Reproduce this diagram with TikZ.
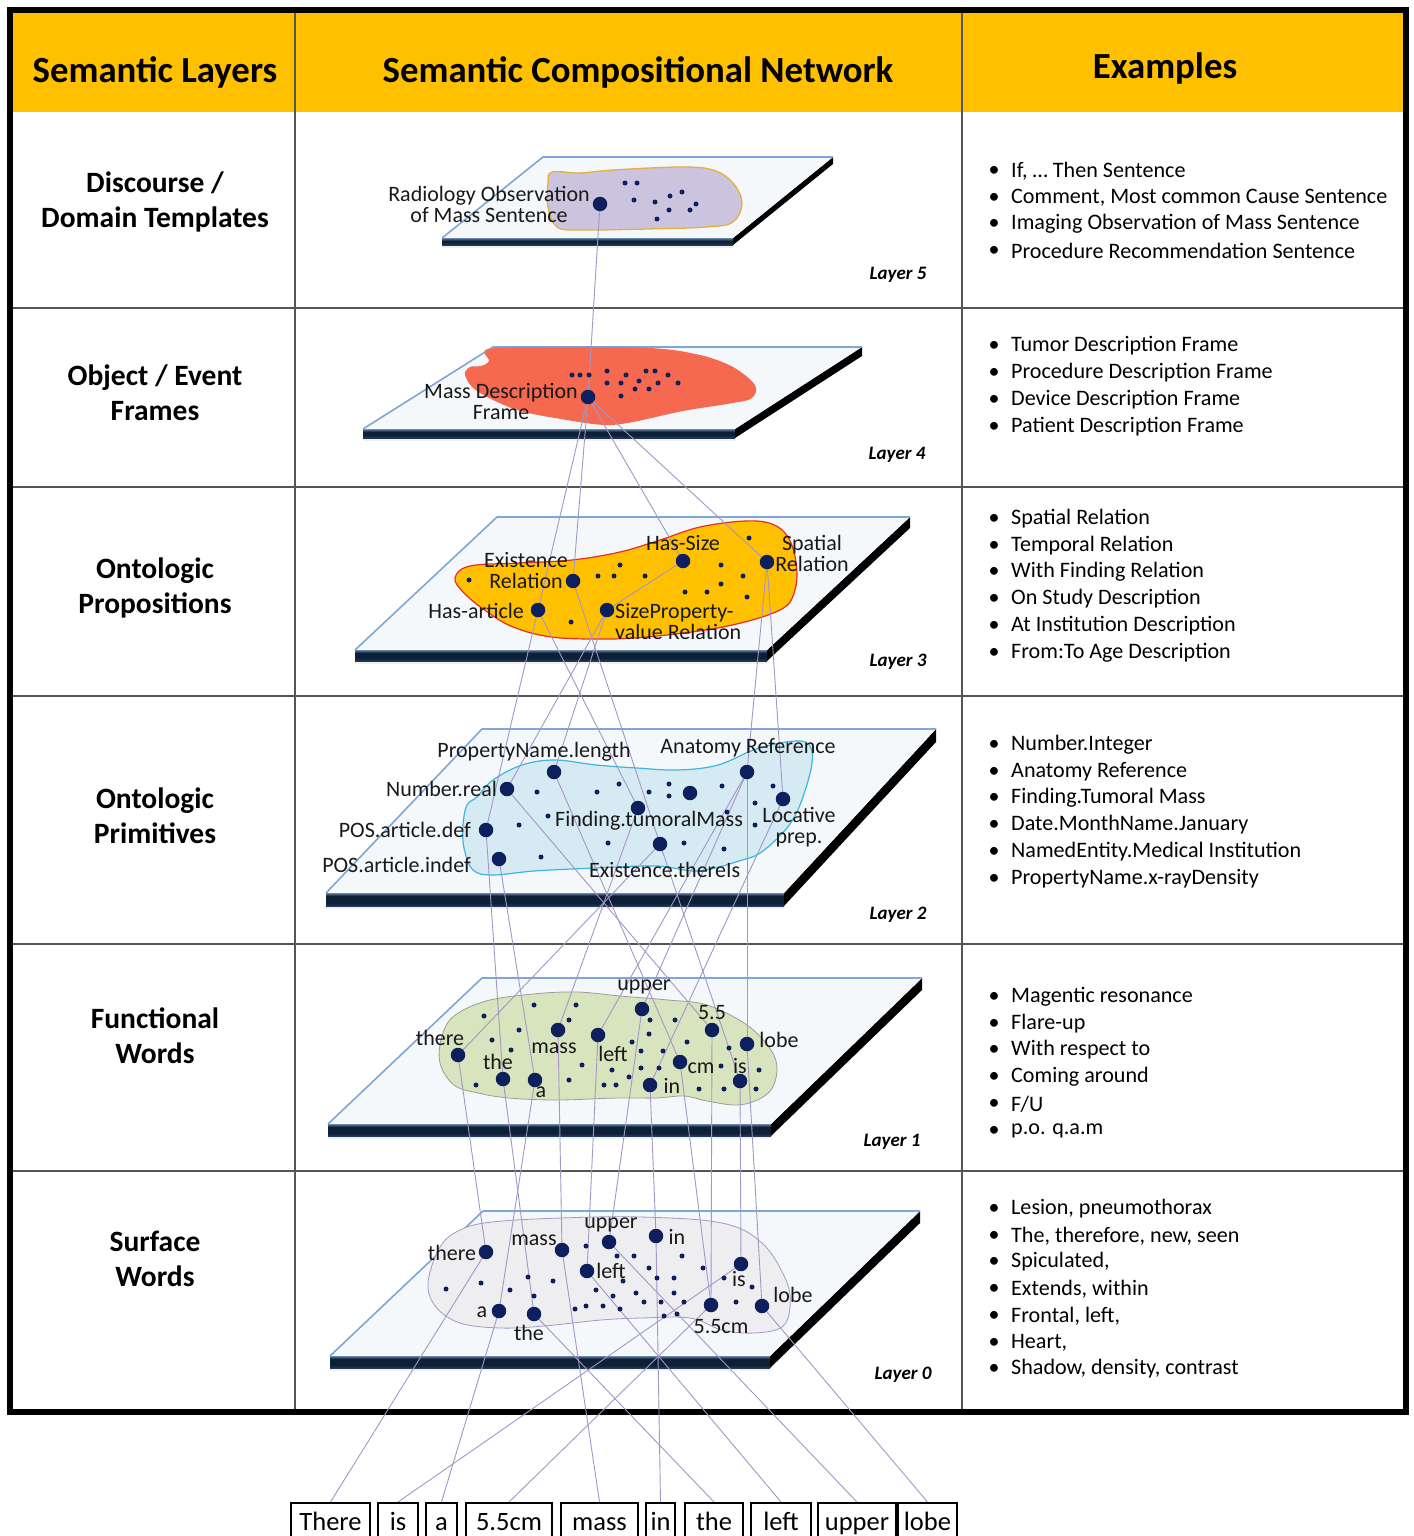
\documentclass[tikz,border=0pt]{standalone}
\usepackage{fontspec}
\setmainfont{Carlito}
\usetikzlibrary{calc}
\definecolor{hdr}{HTML}{FFC000}
\definecolor{navy}{HTML}{0D1F5C}
\definecolor{linkc}{HTML}{A496C6}
\definecolor{planetop}{HTML}{F5F8FB}
\definecolor{planeedge}{HTML}{7FA6D6}
\definecolor{bandtop}{HTML}{5A7A9C}
\definecolor{bandmid}{HTML}{0E2036}
\definecolor{bandbot}{HTML}{1F3A56}
\definecolor{blobfive}{HTML}{CCC3DE}
\definecolor{blobfiveb}{HTML}{E3B23C}
\definecolor{blobfour}{HTML}{F4694F}
\definecolor{blobthree}{HTML}{FFC000}
\definecolor{blobthreeb}{HTML}{E52D24}
\definecolor{blobtwo}{HTML}{D6EAF3}
\definecolor{blobtwob}{HTML}{3DB5DD}
\definecolor{blobone}{HTML}{D7E4BD}
\definecolor{bloboneb}{HTML}{9C9C9C}
\definecolor{blobzero}{HTML}{EEEEF1}
\definecolor{blobzerob}{HTML}{A597C8}
\definecolor{gridc}{HTML}{555555}
\pgfdeclarelayer{planes}
\pgfdeclarelayer{links}
\pgfsetlayers{planes,links,main}
% #1 top y, #2 back-left x, #3 back-right x, #4 front y, #5 front-left x, #6 front-right x, #7 thickness
\newcommand\myplane[7]{%
  \fill[gray!12] (#5,{#4+#7}) rectangle (#6,{#4+#7+3});
  \fill[black] (#6,#4) -- (#3,#1) -- (#3,{#1+#7}) -- (#6,{#4+#7}) -- cycle;
  \fill[bandmid] (#5,#4) rectangle (#6,{#4+#7});
  \shade[top color=bandtop, bottom color=bandmid] (#5,#4) rectangle (#6,{#4+3});
  \shade[top color=bandmid, bottom color=bandbot] (#5,{#4+#7-3}) rectangle (#6,{#4+#7});
  \fill[planetop] (#2,#1) -- (#3,#1) -- (#6,#4) -- (#5,#4) -- cycle;
  \draw[planeedge, line width=1.6pt, line join=round] (#5,#4) -- (#2,#1) -- (#3,#1);
}
\newcommand\exitem[3]{%
  \node[exdot] (#1d) at (994,#2) {•};
  \node[exlbl] (#1) at (1011,#2) {#3};
}
\begin{document}
\begin{tikzpicture}[x=1pt,y=-1pt,
  bignode/.style={circle, fill=navy, inner sep=0pt, minimum size=14.5pt},
  smalldot/.style={circle, fill=navy, inner sep=0pt, minimum size=5pt},
  lbl/.style={inner sep=0pt, font=\fontsize{22}{21}\selectfont, text=black!90},
  hdrlbl/.style={inner sep=0pt, font=\fontsize{36.8}{40}\selectfont\bfseries},
  rowlbl/.style={inner sep=0pt, align=center, font=\fontsize{29.5}{35}\selectfont\bfseries},
  exlbl/.style={inner sep=0pt, anchor=west, font=\fontsize{22.1}{24}\selectfont},
  exdot/.style={inner sep=0pt, font=\fontsize{22}{24}\selectfont},
  laylbl/.style={inner sep=0pt, font=\fontsize{19}{20}\selectfont\bfseries\itshape},
  wordbox/.style={draw=black, line width=1.8pt, fill=white, inner sep=0pt, anchor=north, minimum height=36pt, text height=19pt, text depth=0pt, font=\fontsize{26.5}{27}\selectfont},
  link/.style={draw=linkc, line width=0.9pt}
]
\useasboundingbox (0,0) rectangle (1413,1536);

\begin{pgfonlayer}{planes}
  \fill[white] (0,0) rectangle (1413,1536);
  \fill[hdr] (10,10) rectangle (1406,112);
  \foreach \yy in {308,487,696,944,1171}
    \draw[gridc, line width=1.2pt] (10,\yy) -- (1406,\yy);
  \draw[gridc, line width=1.2pt] (295,10) -- (295,1412);
  \draw[gridc, line width=1.2pt] (962,10) -- (962,1412);
  \draw[black, line width=6pt] (10,10) rectangle (1406,1412);

  % planes
  \myplane{157}{543}{833}{238}{442}{733}{7}
  \myplane{347}{493}{862}{429}{363}{735}{9}
  \myplane{517}{497}{910}{650}{355}{767}{11}
  \myplane{729}{482}{936}{893}{326}{784}{13}
  \myplane{978}{482}{922}{1124}{328}{771}{12}
  \myplane{1211}{483}{920}{1356}{330}{770}{12}

  % blobs
  \filldraw[fill=blobfive, draw=blobfiveb, line width=1.3pt] plot[smooth cycle, tension=0.6] coordinates {(552,172) (580,173) (613,170) (680,167) (713,170) (733,183) (742,203) (733,222) (707,227) (647,229) (580,230) (557,227) (548,207) (548,183)};
  \fill[blobfour] plot[smooth cycle, tension=0.55] coordinates {(488,349) (550,347) (650,348) (700,355) (733,367) (755,385) (752,398) (733,403) (683,411) (633,422) (605,425) (567,420) (517,410) (477,391) (465,375) (470,367) (481,366) (489,361)};
  \filldraw[fill=blobthree, draw=blobthreeb, line width=1.2pt] plot[smooth cycle, tension=0.6] coordinates {(455,578) (470,566) (520,563) (572,560) (620,552) (660,540) (700,527) (745,521) (772,524) (788,537) (796,562) (795,590) (780,610) (723,627) (647,637) (600,639) (551,637) (513,627) (486,611) (464,593)};
  \filldraw[fill=blobtwo, draw=blobtwob, line width=1.2pt] plot[smooth cycle, tension=0.6] coordinates {(467,805) (477,797) (493,780) (522,765) (555,760) (596,765) (637,768) (678,770) (718,765) (759,748) (800,741) (812,752) (808,781) (792,821) (763,851) (739,861) (698,871) (657,866) (596,868) (534,871) (493,875) (473,870) (464,848) (463,825)};
  \filldraw[fill=blobone, draw=bloboneb, line width=0.8pt] plot[smooth cycle, tension=0.6] coordinates {(440,1063) (442,1036) (454,1016) (486,1001) (533,994) (577,992) (620,996) (668,1000) (707,1005) (747,1025) (771,1050) (777,1070) (771,1090) (755,1101) (735,1105) (707,1101) (684,1096) (656,1098) (616,1098) (557,1100) (509,1098) (478,1093) (454,1085)};
  \filldraw[fill=blobzero, draw=blobzerob, line width=0.8pt] plot[smooth cycle, tension=0.6] coordinates {(440,1247) (460,1230) (492,1222) (561,1218) (641,1217) (722,1223) (762,1243) (786,1280) (790,1307) (782,1327) (754,1333) (722,1330) (690,1318) (641,1318) (601,1320) (544,1326) (500,1328) (460,1323) (436,1307) (428,1283)};
\end{pgfonlayer}

% headers
\node[hdrlbl] (h1) at (155,72) {Semantic Layers};
\node[hdrlbl] (h2) at (638,72) {Semantic Compositional Network};
\node[hdrlbl] (h3) at (1165,68) {Examples};

% row labels
\node[rowlbl] (r1) at (155,202) {Discourse /\\Domain Templates};
\node[rowlbl] (r2) at (155,393) {Object / Event\\Frames};
\node[rowlbl] (r3) at (155,588) {Ontologic\\Propositions};
\node[rowlbl] (r4) at (155,816) {Ontologic\\Primitives};
\node[rowlbl] (r5) at (155,1036) {Functional\\Words};
\node[rowlbl] (r6) at (155,1259) {Surface\\Words};

% examples
\exitem{ea}{171}{If, … Then Sentence}
\exitem{eb}{198}{Comment, Most common Cause Sentence}
\exitem{ec}{224}{Imaging Observation of Mass Sentence}
\exitem{ed}{251}{Procedure Recommendation Sentence}
\exitem{ee}{346}{Tumor Description Frame}
\exitem{ef}{373}{Procedure Description Frame}
\exitem{eg}{400}{Device Description Frame}
\exitem{eh}{427}{Patient Description Frame}
\exitem{ei}{519}{Spatial Relation}
\exitem{ej}{546}{Temporal Relation}
\exitem{ek}{572}{With Finding Relation}
\exitem{el}{599}{On Study Description}
\exitem{em}{626}{At Institution Description}
\exitem{en}{653}{From:To Age Description}
\exitem{eo}{745}{Number.Integer}
\exitem{ep}{772}{Anatomy Reference}
\exitem{eq}{798}{Finding.Tumoral Mass}
\exitem{er}{825}{Date.MonthName.January}
\exitem{es}{852}{NamedEntity.Medical Institution}
\exitem{et}{879}{PropertyName.x-rayDensity}
\exitem{eu}{997}{Magentic resonance}
\exitem{ev}{1024}{Flare-up}
\exitem{ew}{1050}{With respect to}
\exitem{ex}{1077}{Coming around}
\exitem{ey}{1104}{F/U}
\exitem{ez}{1131}{p.o. q.a.m}
\exitem{fa}{1209}{Lesion, pneumothorax}
\exitem{fb}{1236}{The, therefore, new, seen}
\exitem{fc}{1262}{Spiculated,}
\exitem{fd}{1289}{Extends, within}
\exitem{fe}{1316}{Frontal, left,}
\exitem{ff}{1343}{Heart,}
\exitem{fg}{1369}{Shadow, density, contrast}

% layer labels
\node[laylbl] (ly5) at (898,275) {Layer 5};
\node[laylbl] (ly4) at (897,455) {Layer 4};
\node[laylbl] (ly3) at (898,662) {Layer 3};
\node[laylbl] (ly2) at (898,915) {Layer 2};
\node[laylbl] (ly1) at (892,1142) {Layer 1};
\node[laylbl] (ly0) at (903,1375) {Layer 0};

% ---------- Layer 5
\foreach \x/\y [count=\i] in {625/183,637/183,634/200,655/202,670/196,682/192,669/210,657/219,690/210,696/204}
  \node[smalldot] (d5-\i) at (\x,\y) {};
\node[bignode] (L5) at (600,204) {};
\node[lbl, align=center] (t5) at (489,204) {Radiology Observation\\of Mass Sentence};

% ---------- Layer 4
\foreach \x/\y [count=\i] in {572/375,580/375,589/375,607/371,626/375,646/371,655/371,668/375,607/383,621/383,639/381,658/383,678/383,635/389,649/389,621/396}
  \node[smalldot] (d4-\i) at (\x,\y) {};
\node[bignode] (L4) at (588,397) {};
\node[lbl, align=center] (t4) at (501,401) {Mass Description\\Frame};

% ---------- Layer 3
\foreach \x/\y [count=\i] in {469/580,598/576,614/576,645/576,620/565,749/538,721/565,743/576,721/584,685/592,707/592,747/597,571/622}
  \node[smalldot] (d3-\i) at (\x,\y) {};
\node[bignode] (ER) at (573,581) {};
\node[bignode] (HA) at (538,610) {};
\node[bignode] (HS) at (683,561) {};
\node[bignode] (SR) at (767,562) {};
\node[bignode] (SP) at (607,610) {};
\node[lbl, align=center] (tER) at (526,571) {Existence\\Relation};
\node[lbl, anchor=east] (tHA) at (524,611) {Has-article};
\node[lbl] (tHS) at (683,543) {Has-Size};
\node[lbl, align=center] (tSR) at (812,553) {Spatial\\Relation};
\node[lbl, align=left, anchor=west] (tSP) at (615,622) {SizeProperty-\\value Relation};

% ---------- Layer 2
\foreach \x/\y [count=\i] in {537/792,548/816,519/825,541/857,597/792,619/784,649/792,669/784,669/796,722/786,773/786,755/803,727/812,755/825,608/843,684/843,724/849}
  \node[smalldot] (d2-\i) at (\x,\y) {};
\node[bignode] (PL) at (554,772) {};
\node[bignode] (AR) at (747,772) {};
\node[bignode] (NR) at (507,789) {};
\node[bignode] (PD) at (486,830) {};
\node[bignode] (PI) at (499,859) {};
\node[bignode] (FT) at (638,808) {};
\node[bignode] (ET) at (660,844) {};
\node[bignode] (LP) at (783,799) {};
\node[bignode] (XX) at (690,793) {};
\node[lbl] (tPL) at (534,752) {PropertyName.length};
\node[lbl] (tAR) at (748,748) {Anatomy Reference};
\node[lbl, anchor=east] (tNR) at (497,789) {Number.real};
\node[lbl, anchor=east] (tPD) at (471,830) {POS.article.def};
\node[lbl, anchor=east] (tPI) at (471,865) {POS.article.indef};
\node[lbl, anchor=west] (tFT) at (555,821) {Finding.tumoralMass};
\node[lbl, anchor=west] (tET) at (589,870) {Existence.thereIs};
\node[lbl, align=center] (tLP) at (799,827) {Locative\\prep.};

% ---------- Layer 1
\foreach \x/\y [count=\i] in {484/1016,534/1005,576/1005,492/1040,519/1030,511/1050,569/1020,476/1085,569/1080,582/1065,604/1085,616/1085,612/1070,629/1077,632/1042,641/1051,641/1068,650/1020,649/1034,663/1051,659/1068,675/1020,687/1042,699/1089,721/1066,724/1089,729/1048,759/1070,756/1089}
  \node[smalldot] (d1-\i) at (\x,\y) {};
\node[bignode] (Athere) at (458,1055) {};
\node[bignode] (Athe) at (503,1079) {};
\node[bignode] (Aa) at (535,1080) {};
\node[bignode] (Amass) at (558,1030) {};
\node[bignode] (Aleft) at (598,1035) {};
\node[bignode] (Aupper) at (642,1009) {};
\node[bignode] (Afive) at (712,1030) {};
\node[bignode] (Acm) at (680,1062) {};
\node[bignode] (Ain) at (650,1085) {};
\node[bignode] (Ais) at (740,1081) {};
\node[bignode] (Alobe) at (747,1044) {};
\node[lbl] (tAthere) at (440,1038) {there};
\node[lbl] (tAthe) at (498,1062) {the};
\node[lbl] (tAa) at (541,1092) {a};
\node[lbl] (tAmass) at (554,1048) {mass};
\node[lbl] (tAleft) at (613,1054) {left};
\node[lbl] (tAupper) at (644,987) {upper};
\node[lbl] (tAfive) at (712,1013) {5.5};
\node[lbl] (tAcm) at (701,1068) {cm};
\node[lbl] (tAin) at (672,1086) {in};
\node[lbl] (tAis) at (740,1066) {is};
\node[lbl] (tAlobe) at (779,1040) {lobe};

% ---------- Layer 0
\foreach \x/\y [count=\i] in {586/1246,617/1256,634/1256,682/1256,446/1289,481/1283,510/1290,528/1277,553/1281,534/1296,596/1290,613/1296,623/1281,649/1268,657/1278,674/1278,703/1268,724/1278,752/1287,636/1293,644/1302,661/1302,674/1293,684/1302,736/1302,575/1309,586/1306,603/1306,620/1309,664/1316,677/1314}
  \node[smalldot] (d0-\i) at (\x,\y) {};
\node[bignode] (Bthere) at (486,1252) {};
\node[bignode] (Bmass) at (562,1250) {};
\node[bignode] (Bupper) at (609,1242) {};
\node[bignode] (Bin) at (656,1236) {};
\node[bignode] (Bleft) at (587,1271) {};
\node[bignode] (Bis) at (741,1264) {};
\node[bignode] (Ba) at (499,1311) {};
\node[bignode] (Bthe) at (534,1314) {};
\node[bignode] (Bfive) at (711,1305) {};
\node[bignode] (Blobe) at (762,1306) {};
\node[lbl] (tBthere) at (452,1253) {there};
\node[lbl] (tBmass) at (534,1240) {mass};
\node[lbl] (tBupper) at (611,1225) {upper};
\node[lbl] (tBin) at (677,1237) {in};
\node[lbl] (tBleft) at (611,1271) {left};
\node[lbl] (tBis) at (739,1279) {is};
\node[lbl] (tBa) at (482,1312) {a};
\node[lbl] (tBthe) at (529,1333) {the};
\node[lbl] (tBfive) at (721,1327) {5.5cm};
\node[lbl] (tBlobe) at (793,1295) {lobe};

% ---------- word boxes
\node[wordbox, minimum width=79pt] (Wthere) at (330.5,1502) {There};
\node[wordbox, minimum width=40pt] (Wis) at (398,1502) {is};
\node[wordbox, minimum width=31pt] (Wa) at (441.5,1502) {a};
\node[wordbox, minimum width=86pt] (Wfive) at (509,1502) {5.5cm};
\node[wordbox, minimum width=77pt] (Wmass) at (599.5,1502) {mass};
\node[wordbox, minimum width=29pt] (Win) at (660.5,1502) {in};
\node[wordbox, minimum width=58pt] (Wthe) at (714,1502) {the};
\node[wordbox, minimum width=60pt] (Wleft) at (781,1502) {left};
\node[wordbox, minimum width=78pt] (Wupper) at (857,1502) {upper};
\node[wordbox, minimum width=59pt] (Wlobe) at (927.5,1502) {lobe};

% ---------- connectors
\begin{pgfonlayer}{links}
  \draw[link] (L5.center) -- (L4.center);
  \draw[link] (L4.center) -- (HA.center);
  \draw[link] (L4.center) -- (ER.center);
  \draw[link] (L4.center) -- (HS.center);
  \draw[link] (L4.center) -- (SR.center);
  \draw[link] (HS.center) -- (SP.center);
  \draw[link] (HA.center) -- (PD.center);
  \draw[link] (HA.center) -- (FT.center);
  \draw[link] (SP.center) -- (NR.center);
  \draw[link] (SP.center) -- (PL.center);
  \draw[link] (ER.center) -- (ET.center);
  \draw[link] (SR.center) -- (AR.center);
  \draw[link] (SR.center) -- (LP.center);
  \draw[link] (PD.center) -- (Athe.center);
  \draw[link] (PI.center) -- (Aa.center);
  \draw[link] (ET.center) -- (Athere.center);
  \draw[link] (ET.center) -- (Ais.center);
  \draw[link] (FT.center) -- (Amass.center);
  \draw[link] (NR.center) -- (Afive.center);
  \draw[link] (PL.center) -- (Acm.center);
  \draw[link] (AR.center) -- (Aleft.center);
  \draw[link] (AR.center) -- (Aupper.center);
  \draw[link] (AR.center) -- (Alobe.center);
  \draw[link] (LP.center) -- (Ain.center);
  \draw[link] (Athere.center) -- (Bthere.center);
  \draw[link] (Athe.center) -- (Bthe.center);
  \draw[link] (Aa.center) -- (Ba.center);
  \draw[link] (Amass.center) -- (Bmass.center);
  \draw[link] (Aleft.center) -- (Bleft.center);
  \draw[link] (Aupper.center) -- (Bupper.center);
  \draw[link] (Ain.center) -- (Bin.center);
  \draw[link] (Acm.center) -- (Bfive.center);
  \draw[link] (Afive.center) -- (Bfive.center);
  \draw[link] (Ais.center) -- (Bis.center);
  \draw[link] (Alobe.center) -- (Blobe.center);
  \draw[link] (Wthere.north) -- (Bthere.center);
  \draw[link] (Wis.north) -- (Bis.center);
  \draw[link] (Wa.north) -- (Ba.center);
  \draw[link] (Wfive.north) -- (Bfive.center);
  \draw[link] (Wmass.north) -- (Bmass.center);
  \draw[link] (Win.north) -- (Bin.center);
  \draw[link] (Wthe.north) -- (Bthe.center);
  \draw[link] (Wleft.north) -- (Bleft.center);
  \draw[link] (Wupper.north) -- (Bupper.center);
  \draw[link] (Wlobe.north) -- (Blobe.center);
\end{pgfonlayer}
\end{tikzpicture}
\end{document}
